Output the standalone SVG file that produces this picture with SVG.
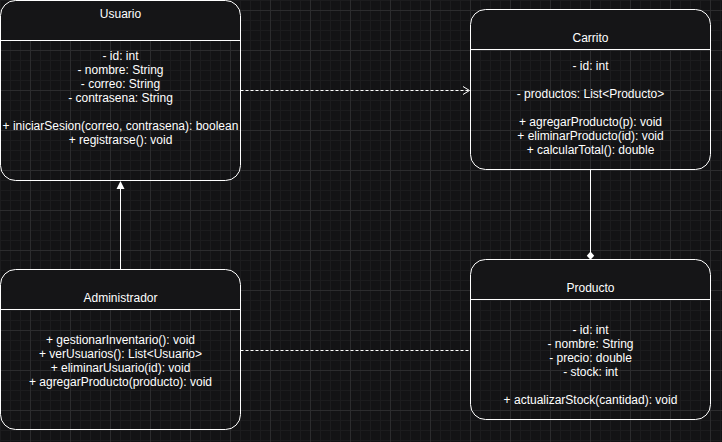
<svg xmlns="http://www.w3.org/2000/svg" width="722" height="442" viewBox="0 0 722 442">
  <style>
    .box { fill: none; stroke: #ffffff; stroke-width: 1; }
    .head { fill: #151517; stroke: none; }
    .sep { stroke: #ffffff; stroke-width: 1; }
    .t { font-family: "Liberation Sans", Arial, sans-serif; font-size: 12px; fill: #ffffff; text-anchor: middle; }
    .edge { fill: none; stroke: #ffffff; stroke-width: 1; }
    .dash { stroke-dasharray: 3 2; }
  </style>
  <defs>
    <pattern id="grid" patternUnits="userSpaceOnUse" x="30" y="10" width="40" height="40">
      <rect x="0" y="0" width="40" height="40" fill="#131315"/>
      <rect x="10" y="0" width="1" height="40" fill="#1c1c1e"/>
      <rect x="20" y="0" width="1" height="40" fill="#1c1c1e"/>
      <rect x="30" y="0" width="1" height="40" fill="#1c1c1e"/>
      <rect x="0" y="10" width="40" height="1" fill="#1c1c1e"/>
      <rect x="0" y="20" width="40" height="1" fill="#1c1c1e"/>
      <rect x="0" y="30" width="40" height="1" fill="#1c1c1e"/>
      <rect x="0" y="0" width="1" height="40" fill="#2c2c2e"/>
      <rect x="0" y="0" width="40" height="1" fill="#2c2c2e"/>
    </pattern>
  </defs>
  <rect x="0" y="0" width="722" height="442" fill="url(#grid)"/>

  <g id="connectors">
    <!-- Usuario -> Carrito (dependency) -->
    <line class="edge dash" x1="240.5" y1="90.5" x2="469" y2="90.5"/>
    <polyline class="edge" points="463,86.5 469.5,90.5 463,94.5" stroke="#dddddd"/>
    <!-- Administrador -> Usuario (inheritance) -->
    <line class="edge" x1="120.5" y1="269.5" x2="120.5" y2="188"/>
    <polygon points="120.5,181 116.5,189 124.5,189" fill="#ffffff"/>
    <!-- Carrito - Producto (composition) -->
    <line class="edge" x1="590.5" y1="169.5" x2="590.5" y2="252"/>
    <polygon points="590.5,251.5 594.2,255.7 590.5,259.8 586.8,255.7" fill="#ffffff"/>
    <!-- Administrador - Producto -->
    <line class="edge dash" x1="240.5" y1="350.5" x2="470" y2="350.5"/>
  </g>

  <g id="usuario">
    <path class="head" d="M0.5,40.5 V15.5 A15,15 0 0 1 15.5,0.5 H225.5 A15,15 0 0 1 240.5,15.5 V40.5 Z"/>
    <rect class="box" x="0.5" y="0.5" width="240" height="180" rx="15" ry="15"/>
    <line class="sep" x1="0.5" y1="40.5" x2="240.5" y2="40.5"/>
    <text class="t" x="120.5" y="18">Usuario</text>
    <text class="t" x="120.5" y="60">- id: int</text>
    <text class="t" x="120.5" y="74">- nombre: String</text>
    <text class="t" x="120.5" y="88">- correo: String</text>
    <text class="t" x="120.5" y="102">- contrasena: String</text>
    <text class="t" x="120.5" y="130">+ iniciarSesion(correo, contrasena): boolean</text>
    <text class="t" x="120.5" y="144">+ registrarse(): void</text>
  </g>

  <g id="carrito">
    <path class="head" d="M470.5,49.5 V24.5 A15,15 0 0 1 485.5,9.5 H695.5 A15,15 0 0 1 710.5,24.5 V49.5 Z"/>
    <rect class="box" x="470.5" y="9.5" width="240" height="160" rx="15" ry="15"/>
    <line class="sep" x1="470.5" y1="49.5" x2="710.5" y2="49.5"/>
    <text class="t" x="590.5" y="42">Carrito</text>
    <text class="t" x="590.5" y="70">- id: int</text>
    <text class="t" x="590.5" y="98">- productos: List&lt;Producto&gt;</text>
    <text class="t" x="590.5" y="126">+ agregarProducto(p): void</text>
    <text class="t" x="590.5" y="140">+ eliminarProducto(id): void</text>
    <text class="t" x="590.5" y="154">+ calcularTotal(): double</text>
  </g>

  <g id="administrador">
    <path class="head" d="M0.5,309.5 V284.5 A15,15 0 0 1 15.5,269.5 H225.5 A15,15 0 0 1 240.5,284.5 V309.5 Z"/>
    <rect class="box" x="0.5" y="269.5" width="240" height="160" rx="15" ry="15"/>
    <line class="sep" x1="0.5" y1="309.5" x2="240.5" y2="309.5"/>
    <text class="t" x="120.5" y="302">Administrador</text>
    <text class="t" x="120.5" y="344">+ gestionarInventario(): void</text>
    <text class="t" x="120.5" y="358">+ verUsuarios(): List&lt;Usuario&gt;</text>
    <text class="t" x="120.5" y="372">+ eliminarUsuario(id): void</text>
    <text class="t" x="120.5" y="386">+ agregarProducto(producto): void</text>
  </g>

  <g id="producto">
    <path class="head" d="M470.5,299.5 V274.5 A15,15 0 0 1 485.5,259.5 H695.5 A15,15 0 0 1 710.5,274.5 V299.5 Z"/>
    <rect class="box" x="470.5" y="259.5" width="240" height="160" rx="15" ry="15"/>
    <line class="sep" x1="470.5" y1="299.5" x2="710.5" y2="299.5"/>
    <text class="t" x="590.5" y="292">Producto</text>
    <text class="t" x="590.5" y="334">- id: int</text>
    <text class="t" x="590.5" y="348">- nombre: String</text>
    <text class="t" x="590.5" y="362">- precio: double</text>
    <text class="t" x="590.5" y="376">- stock: int</text>
    <text class="t" x="590.5" y="404">+ actualizarStock(cantidad): void</text>
  </g>
</svg>
